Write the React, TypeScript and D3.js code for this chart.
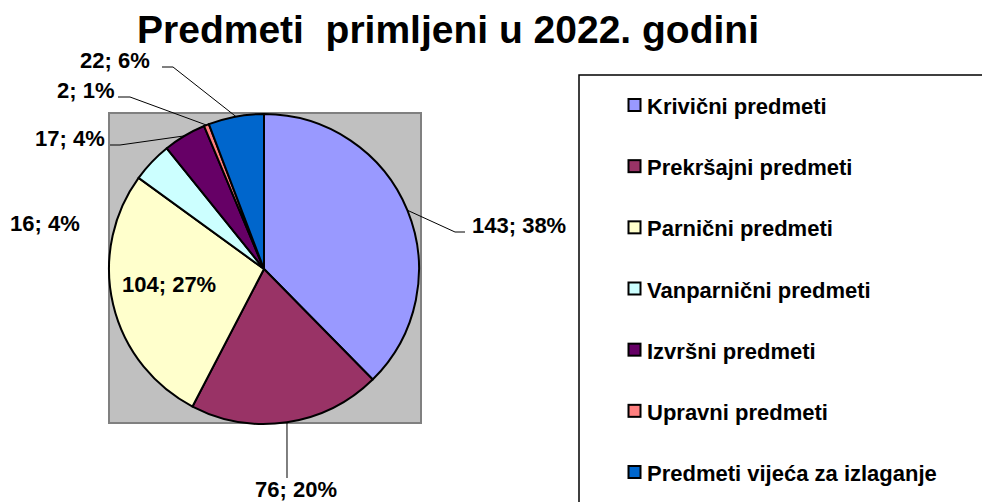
import React from "react";
import * as d3 from "d3";

const TITLE = "Predmeti  primljeni u 2022. godini";
const categories = [
  "Krivični predmeti",
  "Prekršajni predmeti",
  "Parnični predmeti",
  "Vanparnični predmeti",
  "Izvršni predmeti",
  "Upravni predmeti",
  "Predmeti vijeća za izlaganje",
];
const values = [143, 76, 104, 16, 17, 2, 22];
const percentLabels = ["38%", "20%", "27%", "4%", "4%", "1%", "6%"];
const colors = ["#9999FF", "#993366", "#FFFFCC", "#CCFFFF", "#660066", "#FF8080", "#0066CC"];

// label layout: text anchor point (x, baseline y, anchor) and optional leader elbow/end
type Lay = { x: number; y: number; anchor: string; elbow?: [number, number]; end?: [number, number] };
const labelLayout: Lay[] = [
  { x: 472, y: 233, anchor: "start", elbow: [455, 232], end: [465, 232] },
  { x: 296, y: 497, anchor: "middle", elbow: [287, 478], end: [287, 478] },
  { x: 122, y: 292, anchor: "start" },
  { x: 10, y: 231, anchor: "start" },
  { x: 35, y: 146, anchor: "start", elbow: [120, 145], end: [110, 145] },
  { x: 57, y: 98, anchor: "start", elbow: [130, 97], end: [118, 97] },
  { x: 80, y: 68, anchor: "start", elbow: [173, 67], end: [162, 67] },
];

const W = 982;
const H = 502;
const CX = 264;
const CY = 269;
const R = 155;
const FONT = "'Liberation Sans', Arial, Helvetica, sans-serif";

export default function App() {
  const pie = d3.pie<number>().sort(null).startAngle(0).endAngle(2 * Math.PI)(values);
  const arc = d3.arc<d3.PieArcDatum<number>>().innerRadius(0).outerRadius(R);
  const edgeArc = d3.arc<d3.PieArcDatum<number>>().innerRadius(R).outerRadius(R);

  const legendY = d3.scalePoint<number>().domain(d3.range(categories.length)).range([105, 472]);

  return (
    <svg
      width={W}
      height={H}
      style={{ position: "absolute", left: 0, top: 0, background: "#fff" }}
      fontFamily={FONT}
    >
      <text x={448} y={43} textAnchor="middle" fontSize={39} fontWeight="bold" fill="#000" style={{ whiteSpace: "pre" }}>
        {TITLE}
      </text>

      {/* plot area */}
      <rect x={109} y={113} width={312} height={310} fill="#C0C0C0" stroke="#808080" strokeWidth={2} />

      <g transform={`translate(${CX},${CY})`}>
        {pie.map((d, i) => (
          <path key={i} d={arc(d) || ""} fill={colors[i]} stroke="#000" strokeWidth={2} strokeLinejoin="round" />
        ))}
      </g>

      {/* leader lines */}
      {pie.map((d, i) => {
        const L = labelLayout[i];
        if (!L.elbow || !L.end) return null;
        const [ex, ey] = edgeArc.centroid(d);
        const pts = `${CX + ex},${CY + ey} ${L.elbow[0]},${L.elbow[1]} ${L.end[0]},${L.end[1]}`;
        return <polyline key={i} points={pts} fill="none" stroke="#000" strokeWidth={1} />;
      })}

      {/* data labels */}
      {values.map((v, i) => {
        const L = labelLayout[i];
        return (
          <text key={i} x={L.x} y={L.y} textAnchor={L.anchor as any} fontSize={22} fontWeight="bold" fill="#000">
            {`${v}; ${percentLabels[i]}`}
          </text>
        );
      })}

      {/* legend */}
      <rect x={579} y={75} width={420} height={450} fill="#fff" stroke="#000" strokeWidth={1.5} />
      {categories.map((c, i) => {
        const y = legendY(i) as number;
        return (
          <g key={c}>
            <rect x={628.5} y={y - 6} width={12} height={12} fill={colors[i]} stroke="#000" strokeWidth={2} />
            <text x={647} y={y + 9} fontSize={22} fontWeight="bold" fill="#000">
              {c}
            </text>
          </g>
        );
      })}
    </svg>
  );
}
